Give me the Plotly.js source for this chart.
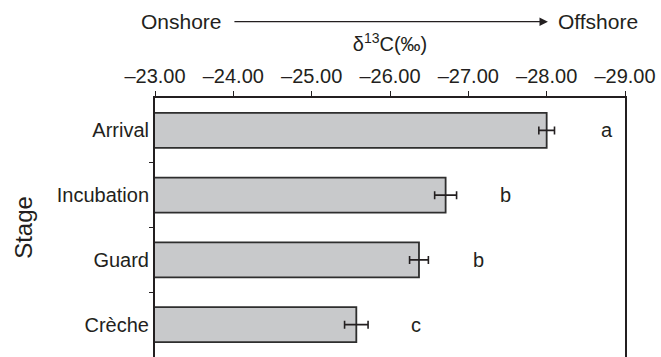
<!DOCTYPE html>
<html>
<head>
<meta charset="utf-8">
<script src="https://cdn.plot.ly/plotly-3.0.1.min.js"></script>
<style>
  html, body { margin: 0; padding: 0; background: #ffffff; }
  #chart { width: 661px; height: 357px; }
</style>
</head>
<body>
<div id="chart"></div>
<script>
// Breeding stages and their mean carbon isotope values (‰) with standard errors
const stages = ["Arrival", "Incubation", "Guard", "Crèche"];
const d13C = [-28.0, -26.71, -26.37, -25.57];
const d13C_se = [0.10, 0.14, 0.12, 0.15];
const groupLetters = ["a", "b", "b", "c"];

// Axis ticks
const xTickVals = [-23, -24, -25, -26, -27, -28, -29];
const xTickText = ["–23.00", "–24.00", "–25.00", "–26.00", "–27.00", "–28.00", "–29.00"];

const FONT = "Liberation Sans, Arial, Helvetica, sans-serif";
const INK = "#231f20";

const yIdx = stages.map((_, i) => i);

const bars = {
  type: "bar",
  orientation: "h",
  x: d13C,
  y: yIdx,
  width: 0.54,
  marker: { color: "#c8c9cb", line: { color: "#2e2e2e", width: 1.8 } },
  error_x: { type: "data", array: d13C_se, visible: true, color: INK, thickness: 1.6, width: 4 },
  hoverinfo: "x+y"
};

// Significance letters beside each bar
const letterNotes = groupLetters.map((t, i) => ({
  x: d13C[i], y: i, xref: "x", yref: "y",
  text: t, showarrow: false, xshift: 60,
  font: { family: FONT, size: 20, color: INK }
}));

// Onshore → Offshore gradient arrow above the axis
const gradientNotes = [
  { xref: "paper", yref: "paper", x: 0.147, y: 1.295, xanchor: "right", yanchor: "middle",
    text: "Onshore", showarrow: false, font: { family: FONT, size: 21, color: INK } },
  { xref: "paper", yref: "paper", x: 0.853, y: 1.295, xanchor: "left", yanchor: "middle",
    text: "Offshore", showarrow: false, font: { family: FONT, size: 21, color: INK } },
  { xref: "paper", yref: "paper", x: 0.836, y: 1.2946, text: "",
    showarrow: true, axref: "pixel", ayref: "pixel", ax: -315, ay: 0,
    arrowhead: 2, arrowsize: 1.3, arrowwidth: 1.3, arrowcolor: INK, standoff: 0 }
];

const layout = {
  width: 661,
  height: 357,
  margin: { l: 155, r: 36, t: 98, b: 0 },
  paper_bgcolor: "#ffffff",
  plot_bgcolor: "#ffffff",
  showlegend: false,
  font: { family: FONT, size: 20, color: INK },
  xaxis: {
    side: "top",
    range: [-23, -29],
    tickmode: "array",
    tickvals: xTickVals,
    ticktext: xTickText,
    ticks: "outside",
    ticklen: 5,
    tickwidth: 1,
    tickcolor: INK,
    showline: true,
    linewidth: 2,
    linecolor: INK,
    showgrid: false,
    zeroline: false,
    tickfont: { family: FONT, size: 20, color: INK },
    title: { text: "δ<sup>13</sup>C(‰)", standoff: 8, font: { family: FONT, size: 20, color: INK } }
  },
  yaxis: {
    range: [3.5, -0.5],
    tickmode: "array",
    tickvals: yIdx,
    ticktext: stages,
    ticks: "",
    minor: { tickmode: "array", tickvals: [0.5, 1.5, 2.5], ticks: "outside", ticklen: 4, tickwidth: 1, tickcolor: INK, showgrid: false },
    showline: true,
    mirror: true,
    linewidth: 2,
    linecolor: INK,
    showgrid: false,
    zeroline: false,
    tickfont: { family: FONT, size: 20, color: INK },
    title: { text: "Stage", standoff: 17, font: { family: FONT, size: 24, color: INK } }
  },
  annotations: letterNotes.concat(gradientNotes)
};

Plotly.newPlot("chart", [bars], layout, { displayModeBar: false, staticPlot: true });
</script>
</body>
</html>
